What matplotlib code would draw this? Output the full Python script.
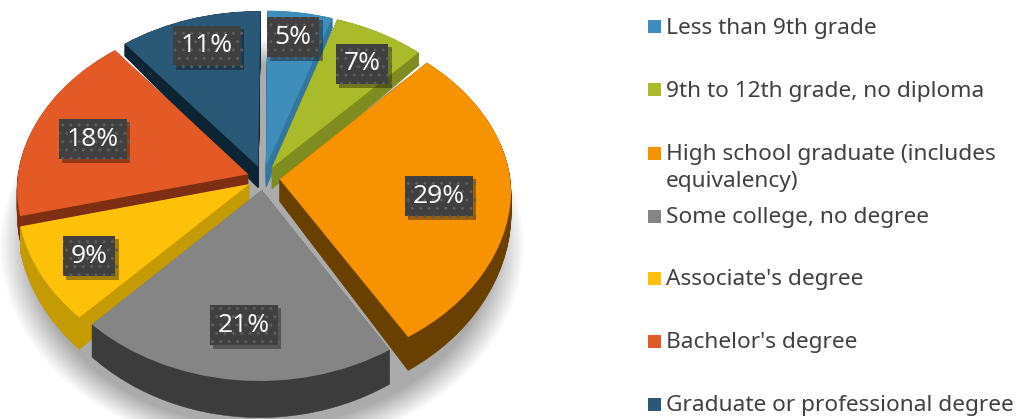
import numpy as np
import matplotlib
matplotlib.use("Agg")
import matplotlib.pyplot as plt
from matplotlib.patches import Rectangle, Ellipse
from matplotlib.transforms import Transform
import matplotlib.patheffects as pe

categories = ["Less than 9th grade", "9th to 12th grade, no diploma",
              "High school graduate (includes\nequivalency)", "Some college, no degree",
              "Associate's degree", "Bachelor's degree", "Graduate or professional degree"]
values = [5, 7, 29, 21, 9, 18, 11]
colors = ["#3F8DBB", "#A9BA2A", "#F79200", "#858585", "#FDC10A", "#E35A27", "#2A5978"]
wall_colors = ["#3377A0", "#7F8C1F", "#694000", "#3C3C3C", "#C49A05", "#7E2F13", "#0D2435"]
draw_order = [0, 1, 6, 5, 2, 4, 3]
label_px = [(293, 37), (362, 64), (439, 196), (244, 325), (89, 256), (93, 139), (207, 46)]
legend_y = [27, 90, 153, 216, 278, 341, 404]

W, H = 1018, 419
CX, CY, RX, S, K = 263.5, 178, 231, 171.5, 0.09


class Persp(Transform):
    input_dims = output_dims = 2
    is_affine = False
    has_inverse = False

    def __init__(self, t=0.0):
        super().__init__()
        self.t = t

    def transform_non_affine(self, values):
        values = np.asarray(values, float)
        u, v = values[:, 0], values[:, 1]
        w = 1 + K * v
        wx = 1 + np.where(v > 0, 0.105, 0.065) * v
        x = CX + RX * u / wx + 2 * np.minimum(v, 0)
        y = CY - S * v / w
        y = y + self.t * (12 + 0.072 * (y - 40))
        return np.column_stack([x, y])


fig = plt.figure(figsize=(W / 100, H / 100), dpi=100, facecolor="white")
ax = fig.add_axes([0, 0, 1, 1])
explode = [0.07] * len(values)
rank = {idx: r for r, idx in enumerate(draw_order)}


def layer(t, cols, base):
    wedges, _ = ax.pie(values, explode=explode, startangle=89.5, counterclock=False,
                       colors=cols, radius=1,
                       wedgeprops=dict(linewidth=0.4 if base == 1 else 0,
                                       edgecolor="none" if base != 1 else None))
    tr = Persp(t) + ax.transData
    for i, w in enumerate(wedges):
        w.set_transform(tr)
        w.set_zorder(10 + rank[i] * 10 + base)
        if base == 1:
            w.set_edgecolor(cols[i])
    return wedges


for t in np.linspace(1, 0.03, 32):
    layer(t, wall_colors, 1)
layer(0, colors, 2)

ax.set_aspect("auto")
ax.set_xlim(0, W)
ax.set_ylim(H, 0)
ax.axis("off")

# soft ground shadow
for r in np.linspace(1.0, 0.88, 28):
    ax.add_patch(Ellipse((262, 245), 524 * r, 412 * r, facecolor="black",
                         edgecolor="none", alpha=0.011, zorder=1))

for v, (x, y) in zip(values, label_px):
    txt = ax.text(x, y, f"{v}%", color="white", fontsize=19, family="Open Sans",
                  ha="center", va="center", zorder=200,
                  bbox=dict(boxstyle="square,pad=0.3", facecolor="#404040",
                            edgecolor="#5c5c5c", hatch="..", linewidth=0))
    txt.get_bbox_patch().set_path_effects(
        [pe.withSimplePatchShadow(offset=(2.5, -2.5), shadow_rgbFace="black", alpha=0.35)])

for name, c, y in zip(categories, colors, legend_y):
    ax.add_patch(Rectangle((648, y - 6.5), 13, 13, facecolor=c, edgecolor="none", zorder=5))
    ax.text(666, y - 9, name, color="#404040", fontsize=16.3, family="Noto Sans",
            ha="left", va="top", linespacing=1.4, zorder=5)

fig.savefig("out.png", dpi=100)
